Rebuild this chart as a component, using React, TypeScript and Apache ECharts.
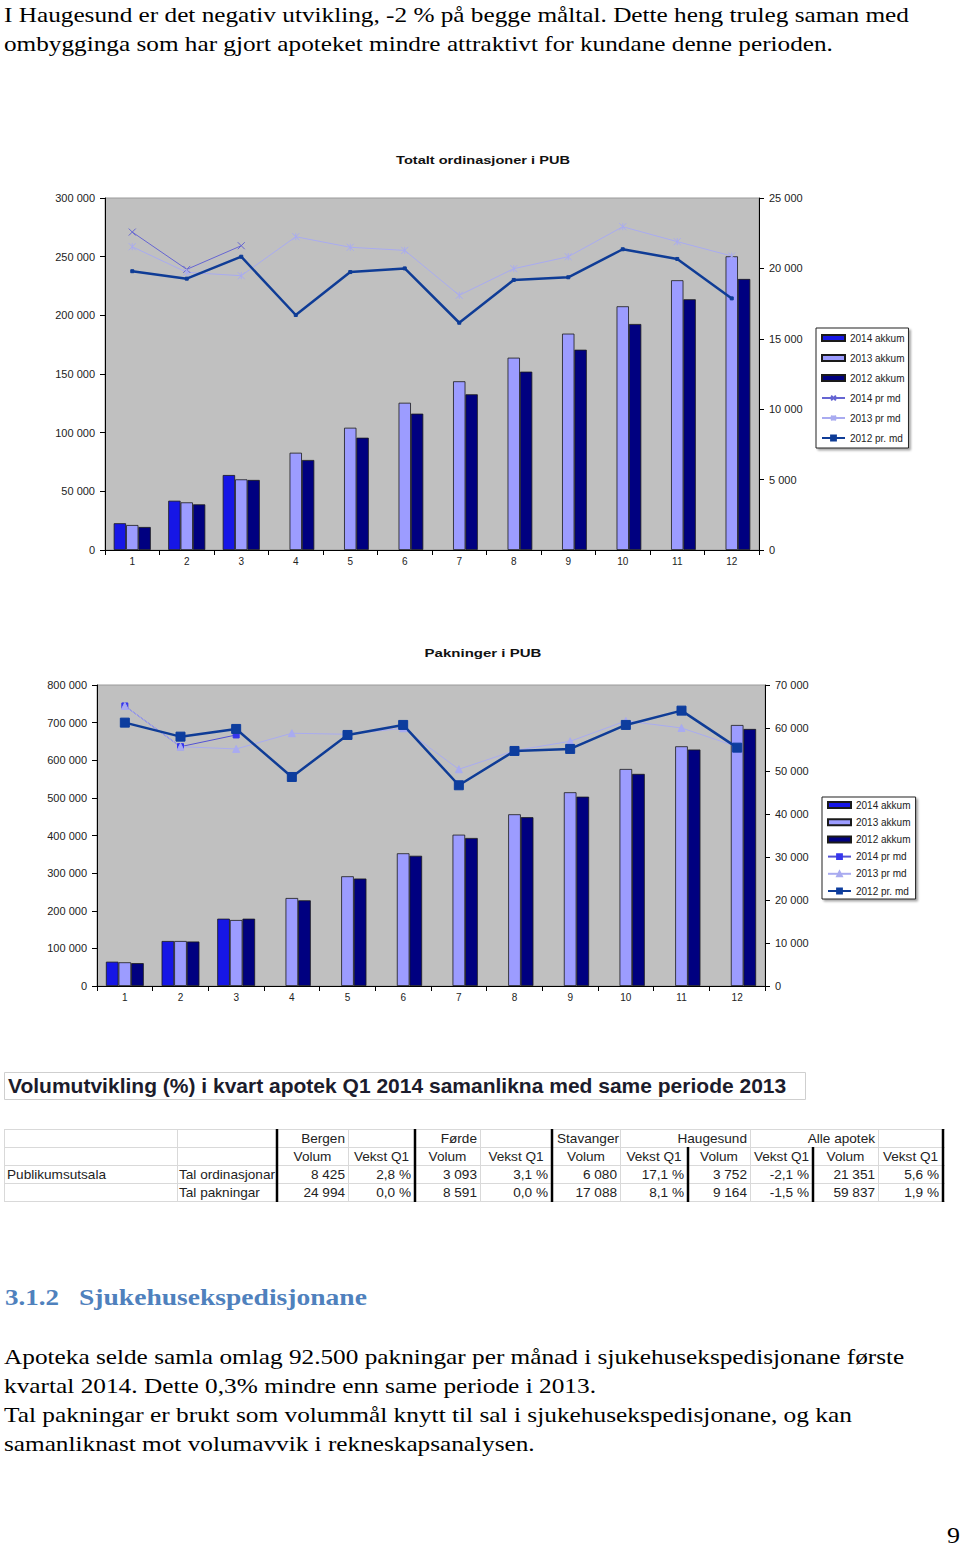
import React, { useEffect, useRef } from 'react';
import * as echarts from 'echarts';

// ---------- DATA ----------
const months = ['1', '2', '3', '4', '5', '6', '7', '8', '9', '10', '11', '12'];

// Totalt ordinasjonar i PUB
const ord2014Akkum = [22800, 42000, 63900, null, null, null, null, null, null, null, null, null];
const ord2013Akkum = [21300, 40600, 60200, 82900, 104200, 125500, 143800, 163900, 184400, 207700, 229900, 250300];
const ord2012Akkum = [19600, 38900, 59700, 76700, 95700, 116200, 132700, 152000, 170700, 192600, 213700, 231000];
const ord2014Md = [22580, 19930, 21610, null, null, null, null, null, null, null, null, null];
const ord2013Md = [21540, 19720, 19480, 22250, 21500, 21280, 18090, 19980, 20830, 22960, 21900, 20880];
const ord2012Md = [19800, 19270, 20830, 16690, 19740, 20000, 16140, 19180, 19370, 21360, 20670, 17870];

// Pakningar i PUB
const pak2014Akkum = [64600, 119600, 178900, null, null, null, null, null, null, null, null, null];
const pak2013Akkum = [63000, 119600, 175400, 233900, 291600, 352700, 402200, 456400, 514900, 576800, 637100, 693700];
const pak2012Akkum = [60800, 118200, 178900, 227700, 285600, 346100, 393400, 448600, 503200, 563700, 628500, 683200];
const pak2014Md = [65130, 55660, 58380, null, null, null, null, null, null, null, null, null];
const pak2013Md = [65130, 55660, 55130, 58780, 58540, 59940, 50400, 54730, 56910, 61640, 60010, 55660];
const pak2012Md = [61250, 57990, 59780, 48610, 58380, 60710, 46680, 54660, 55130, 60710, 64040, 55430];

const legendNames = ['2014 akkum', '2013 akkum', '2012 akkum', '2014 pr md', '2013 pr md', '2012 pr. md'];

// Table
const tableTitle = 'Volumutvikling (%) i kvart apotek Q1 2014 samanlikna med same periode 2013';
const cities = ['Bergen', 'Førde', 'Stavanger', 'Haugesund', 'Alle apotek'];
const cityAlign = ['right', 'right', 'left', 'right', 'right'];
const rowGroup = 'Publikumsutsala';
const rowLabels = ['Tal ordinasjonar', 'Tal pakningar'];
const ordVolum = [8425, 3093, 6080, 3752, 21351];
const ordVekst = [2.8, 3.1, 17.1, -2.1, 5.6];
const pakVolum = [24994, 8591, 17088, 9164, 59837];
const pakVekst = [0.0, 0.0, 8.1, -1.5, 1.9];

// Texts
const para1 = [
  'I Haugesund er det negativ utvikling, -2 % på begge måltal. Dette heng truleg saman med',
  'ombygginga som har gjort apoteket mindre attraktivt for kundane denne perioden.',
];
const para2 = [
  'Apoteka selde samla omlag 92.500 pakningar per månad i sjukehusekspedisjonane første',
  'kvartal 2014. Dette 0,3% mindre enn same periode i 2013.',
  'Tal pakningar er brukt som volummål knytt til sal i sjukehusekspedisjonane, og kan',
  'samanliknast mot volumavvik i rekneskapsanalysen.',
];
const para1Widths = [906, 829];
const para2Widths = [901, 592, 848, 531];
const headingNum = '3.1.2';
const headingText = 'Sjukehusekspedisjonane';
const pageNumber = '9';
const chartTitles = ['Totalt ordinasjoner i PUB', 'Pakninger i PUB'];

// ---------- HELPERS ----------
const SANS = "'Liberation Sans', Arial, sans-serif";
const SERIF = "'Liberation Serif', 'Times New Roman', serif";

function fmtSpace(v: number) {
  return String(v).replace(/\B(?=(\d{3})+(?!\d))/g, ' ');
}
function fmtPct(v: number) {
  return v.toFixed(1).replace('.', ',') + ' %';
}

let mctx: CanvasRenderingContext2D | null = null;
function measure(text: string, size: number, family: string, weight: string) {
  if (!mctx) mctx = document.createElement('canvas').getContext('2d');
  if (!mctx) return text.length * size * 0.5;
  mctx.font = `${weight} ${size}px ${family}`;
  return mctx.measureText(text).width;
}

function txt(text: string, x: number, y: number, size: number, family: string, weight: string, fill: string, align = 'left', fitWidth?: number) {
  const el: any = {
    type: 'text',
    x,
    y,
    silent: true,
    style: {
      text,
      fontSize: size,
      fontFamily: family,
      fontWeight: weight,
      fill,
      align,
      verticalAlign: 'middle',
      textAlign: align,
      textVerticalAlign: 'middle',
    },
  };
  if (fitWidth) {
    const w = measure(text, size, family, weight);
    el.scaleX = fitWidth / w;
  }
  return el;
}

function line(x1: number, y1: number, x2: number, y2: number, color: string, width: number) {
  return { type: 'line', silent: true, shape: { x1, y1, x2, y2 }, style: { stroke: color, lineWidth: width } };
}

const C14 = '#1616e6';
const C13 = '#9c9cff';
const C12 = '#000080';
const L14 = '#6565d2';
const L13 = '#a9abf0';
const L12 = '#0f3c96';

const X_PATH = 'path://M0,0L10,10M10,0L0,10';
const STAR_PATH = 'path://M0,0L10,10M10,0L0,10M5,0L5,10';

function barSeries(name: string, data: any[], color: string, xi: number, yi: number) {
  return {
    type: 'bar',
    name,
    data,
    xAxisIndex: xi,
    yAxisIndex: yi,
    barGap: '0%',
    barCategoryGap: '32%',
    itemStyle: { color, borderColor: '#1a1a1a', borderWidth: 0.8 },
    emphasis: { disabled: true },
  };
}

function lineSeries(name: string, data: any[], color: string, width: number, symbol: string, symbolSize: number, symColor: string, xi: number, yi: number) {
  return {
    type: 'line',
    name,
    data,
    xAxisIndex: xi,
    yAxisIndex: yi,
    symbol,
    symbolSize,
    showSymbol: true,
    lineStyle: { color, width },
    itemStyle: { color: symColor, borderColor: symColor, borderWidth: 1 },
    emphasis: { disabled: true },
    z: 3,
  };
}

function axisX(gridIndex: number) {
  return {
    type: 'category',
    gridIndex,
    data: months,
    axisLine: { lineStyle: { color: '#000', width: 1 } },
    axisTick: { show: true, length: 5, lineStyle: { color: '#000' } },
    axisLabel: { fontSize: 10, color: '#222', margin: 6, fontFamily: SANS },
    splitLine: { show: false },
  };
}

function axisY(gridIndex: number, max: number, interval: number, position: string) {
  return {
    type: 'value',
    gridIndex,
    min: 0,
    max,
    interval,
    position,
    axisLine: { show: true, lineStyle: { color: '#000', width: 1 } },
    axisTick: { show: true, length: 5, lineStyle: { color: '#000' } },
    axisLabel: { fontSize: 11, color: '#222', margin: 10, fontFamily: SANS, formatter: (v: number) => fmtSpace(v) },
    splitLine: { show: false },
  };
}

function legendData(suffix: string) {
  return legendNames.map((n, i) => (i < 3 ? { name: n, icon: 'rect' } : { name: n + suffix }));
}

export default function App() {
  const ref = useRef<HTMLDivElement>(null);

  useEffect(() => {
    if (!ref.current) return;
    const chart = echarts.init(ref.current, undefined, { renderer: 'svg' });

    const g: any[] = [];
    // Top paragraph
    para1.forEach((t, i) => g.push(txt(t, 4, 15 + i * 29, 21.5, SERIF, 'normal', '#000', 'left', para1Widths[i])));
    // Chart titles
    g.push(txt(chartTitles[0], 483, 160, 11.5, SANS, 'bold', '#111', 'center', 174));
    g.push(txt(chartTitles[1], 483, 653, 11.5, SANS, 'bold', '#111', 'center', 117));

    // Table title box
    g.push({ type: 'rect', silent: true, shape: { x: 4.5, y: 1072.5, width: 801, height: 27 }, style: { fill: '#fff', stroke: '#cfcfcf', lineWidth: 1 } });
    g.push(txt(tableTitle, 8, 1086, 20, SANS, 'bold', '#1c1c2c', 'left', 779));

    // Table grid
    const colX = [4, 177, 277, 348, 415, 480, 552, 620, 688, 750, 813, 878, 943];
    const rowY = [1129, 1147, 1165, 1183, 1201];
    rowY.forEach((y) => g.push(line(4, y + 0.5, 945, y + 0.5, '#d9d9d9', 1)));
    [4, 177, 348, 480, 620, 750, 878].forEach((x) => g.push(line(x + 0.5, rowY[0], x + 0.5, rowY[4], '#d9d9d9', 1)));
    [277, 415, 552, 943].forEach((x) => g.push(line(x, rowY[0], x, rowY[4] + 1, '#000', 2.5)));
    [688, 813].forEach((x) => g.push(line(x, rowY[1], x, rowY[4] + 1, '#000', 2.5)));

    const rc = (r: number) => (rowY[r] + rowY[r + 1]) / 2 + 0.5;
    const TS = 13.6;
    const TC = '#222';
    cities.forEach((city, i) => {
      const vl = colX[2 + i * 2];
      const vr = colX[3 + i * 2];
      const kr = colX[4 + i * 2];
      if (cityAlign[i] === 'left') g.push(txt(city, vl + 5, rc(0), TS, SANS, 'normal', TC, 'left'));
      else g.push(txt(city, vr - 3, rc(0), TS, SANS, 'normal', TC, 'right'));
      g.push(txt('Volum', (vl + vr) / 2, rc(1), TS, SANS, 'normal', TC, 'center'));
      g.push(txt('Vekst Q1', (vr + kr) / 2, rc(1), TS, SANS, 'normal', TC, 'center'));
      g.push(txt(fmtSpace(ordVolum[i]), vr - 3, rc(2), TS, SANS, 'normal', TC, 'right'));
      g.push(txt(fmtPct(ordVekst[i]), kr - 4, rc(2), TS, SANS, 'normal', TC, 'right'));
      g.push(txt(fmtSpace(pakVolum[i]), vr - 3, rc(3), TS, SANS, 'normal', TC, 'right'));
      g.push(txt(fmtPct(pakVekst[i]), kr - 4, rc(3), TS, SANS, 'normal', TC, 'right'));
    });
    g.push(txt(rowGroup, 7, rc(2), TS, SANS, 'normal', TC, 'left'));
    g.push(txt(rowLabels[0], 179, rc(2), TS, SANS, 'normal', TC, 'left'));
    g.push(txt(rowLabels[1], 179, rc(3), TS, SANS, 'normal', TC, 'left'));

    // Heading
    g.push(txt(headingNum, 5, 1297, 24, SERIF, 'bold', '#4f81bd', 'left', 54));
    g.push(txt(headingText, 79, 1297, 24, SERIF, 'bold', '#4f81bd', 'left', 288));

    // Bottom paragraph
    para2.forEach((t, i) => g.push(txt(t, 4, 1357 + i * 29, 21.5, SERIF, 'normal', '#000', 'left', para2Widths[i])));

    // Page number
    g.push(txt(pageNumber, 960, 1535, 24, SERIF, 'normal', '#000', 'right', 13));

    const legendCommon = {
      orient: 'vertical',
      itemWidth: 23,
      itemHeight: 6,
      backgroundColor: '#fff',
      borderColor: '#222',
      borderWidth: 1,
      shadowColor: 'rgba(0,0,0,0.35)',
      shadowOffsetX: 2,
      shadowOffsetY: 2,
      shadowBlur: 2,
      selectedMode: false,
      textStyle: { fontSize: 10, color: '#222', fontFamily: SANS, lineHeight: 12 },
    };

    const option: any = {
      animation: false,
      backgroundColor: '#fff',
      grid: [
        { left: 105, top: 198, width: 654, height: 352, show: true, backgroundColor: '#c0c0c0', borderColor: '#9a9a9a', borderWidth: 1, containLabel: false },
        { left: 97, top: 685, width: 668, height: 301, show: true, backgroundColor: '#c0c0c0', borderColor: '#9a9a9a', borderWidth: 1, containLabel: false },
      ],
      xAxis: [axisX(0), axisX(1)],
      yAxis: [
        axisY(0, 300000, 50000, 'left'),
        axisY(0, 25000, 5000, 'right'),
        axisY(1, 800000, 100000, 'left'),
        axisY(1, 70000, 10000, 'right'),
      ],
      legend: [
        { ...legendCommon, data: legendData(''), left: 816, top: 328, itemGap: 8, padding: [4, 4, 4, 5] },
        { ...legendCommon, data: legendData(' '), left: 822, top: 797, itemGap: 5.2, padding: [2, 4, 2, 5] },
      ],
      series: [
        barSeries(legendNames[0], ord2014Akkum, C14, 0, 0),
        barSeries(legendNames[1], ord2013Akkum, C13, 0, 0),
        barSeries(legendNames[2], ord2012Akkum, C12, 0, 0),
        lineSeries(legendNames[3], ord2014Md, L14, 1, X_PATH, 7, L14, 0, 1),
        lineSeries(legendNames[4], ord2013Md, L13, 1, STAR_PATH, 7, L13, 0, 1),
        lineSeries(legendNames[5], ord2012Md, L12, 2.5, 'rect', 3, L12, 0, 1),

        barSeries(legendNames[0], pak2014Akkum, C14, 1, 2),
        barSeries(legendNames[1], pak2013Akkum, C13, 1, 2),
        barSeries(legendNames[2], pak2012Akkum, C12, 1, 2),
        lineSeries(legendNames[3] + ' ', pak2014Md, '#5252d4', 1, 'rect', 6, '#3636ee', 1, 3),
        lineSeries(legendNames[4] + ' ', pak2013Md, L13, 1, 'triangle', 7, L13, 1, 3),
        lineSeries(legendNames[5] + ' ', pak2012Md, L12, 2.5, 'rect', 9, '#0d3d9e', 1, 3),
      ],
      graphic: { elements: g },
    };

    chart.setOption(option);
    return () => chart.dispose();
  }, []);

  return (
    <div style={{ position: 'absolute', left: 0, top: 0, width: 960, height: 1547, background: '#fff' }}>
      <div ref={ref} style={{ width: 960, height: 1547 }} />
    </div>
  );
}
